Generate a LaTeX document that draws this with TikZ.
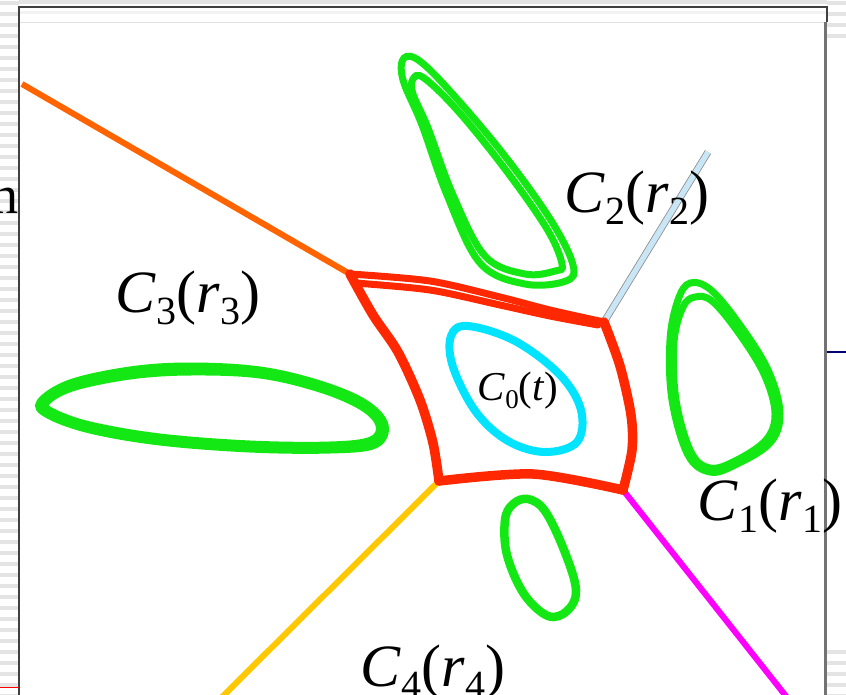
\documentclass[tikz,border=0pt]{standalone}
\usepackage{fontspec}
\setmainfont{Liberation Serif}
\usetikzlibrary{positioning}

\definecolor{bndred}{RGB}{255,40,0}
\definecolor{loopgreen}{RGB}{20,232,20}
\definecolor{loopcyan}{RGB}{0,228,255}
\definecolor{rayorange}{RGB}{255,100,0}
\definecolor{rayblue}{RGB}{200,230,245}
\definecolor{rayyellow}{RGB}{255,200,0}
\definecolor{raymagenta}{RGB}{255,0,255}
\definecolor{stripe}{RGB}{228,228,228}

% lowered subscript at a given size
\newcommand{\lsub}[2]{\raisebox{-0.2em}{\fontsize{#1}{#1}\selectfont #2}}

\begin{document}
\begin{tikzpicture}[
    x=1pt, y=-1pt,
    boundary/.style={draw=bndred, line width=9.5pt, line join=round, line cap=round},
    loop/.style={draw=loopgreen, line width=7pt},
    ray/.style={line width=6pt},
    lbl/.style={font=\fontsize{60}{60}\selectfont, inner sep=0pt, anchor=base},
    smalllbl/.style={font=\fontsize{41}{41}\selectfont, inner sep=0pt, anchor=base}
]
    \useasboundingbox (0,0) rectangle (846,694);

    % Background stripes and frame
    \fill[white] (0,0) rectangle (846,694);
    \foreach \y in {1,12,...,694} {
        \fill[stripe] (0,\y) rectangle (19,\y+3.5);
    }
    \foreach \y in {1,12,23,34} {
        \fill[stripe] (827,\y) rectangle (846,\y+3.5);
    }
    \foreach \y in {650,661,...,694} {
        \fill[stripe] (827,\y) rectangle (846,\y+3.5);
    }
    \fill[stripe] (19,0) rectangle (827,4);
    \fill[white] (19,7) rectangle (826,700);
    \fill[black!5] (20,11) rectangle (826,14);
    \draw[black!12] (20,22) -- (826,22);
    \draw[black!75, line width=1.3pt] (19,700) -- (19,7) -- (827,7) -- (827,22);
    \draw[black!55, line width=3pt] (825,22) -- (825,700);
    \draw[blue!45!black, line width=1.5pt] (827,352) -- (846,352);
    \draw[red, line width=0.8pt] (0,687) -- (19,687);
    \node[font=\fontsize{54}{54}\selectfont, inner sep=0pt, anchor=base east] (cut) at (19,213) {n};

    % Corners of the boundary
    \coordinate (q-nw) at (350,274);
    \coordinate (q-ne) at (604,322);
    \coordinate (q-se) at (623,490);
    \coordinate (q-sw) at (439,481);

    % Ray ends
    \coordinate (e3) at (22,84);
    \coordinate (e2) at (708,152);
    \coordinate (e4) at (219,700);
    \coordinate (e1) at (789,700);

    % Rays
    \draw[ray, rayorange] (q-nw) -- (e3);
    \draw[ray, draw=black!45, double=rayblue, double distance=5.5pt, line width=0.8pt] (q-ne) -- (e2);
    \draw[ray, rayyellow] (q-sw) -- (e4);
    \draw[ray, raymagenta] (q-se) -- (e1);

    % Red boundary
    \draw[boundary, line width=7pt] plot[smooth] coordinates {(q-nw) (430,281) (500,297) (550,310) (q-ne)};
    \draw[boundary, line width=7pt] plot[smooth] coordinates {(355,283) (430,290) (500,305) (550,316) (598,325)};
    \draw[boundary] plot[smooth] coordinates {(q-ne) (620,366) (631,415) (632,450) (q-se)};
    \draw[boundary] plot[smooth] coordinates {(q-se) (533,474) (q-sw)};
    \draw[boundary] plot[smooth] coordinates {(q-sw) (433,443) (420,400) (398,352) (373,315) (q-nw)};

    % Green loops
    \draw[loop] plot[smooth cycle, tension=0.6] coordinates {(404,58) (421,62) (458,100) (508,160) (552,222) (573,265) (566,281) (525,284) (480,263) (447,195) (422,125) (403,80)};
    \draw[loop] plot[smooth cycle, tension=0.6] coordinates {(413,79) (424,78) (458,111) (505,169) (547,229) (562,264) (555,271) (525,274) (485,256) (453,195) (428,128) (413,94)};
    \draw[loop] plot[smooth cycle, tension=0.6] coordinates {(690,283) (711,290) (740,325) (768,370) (780,413) (770,443) (735,465) (710,472) (688,455) (672,400) (670,340) (678,300)};
    \draw[loop] plot[smooth cycle, tension=0.6] coordinates {(695,297) (712,301) (738,332) (764,374) (775,413) (766,440) (735,461) (710,468) (691,452) (676,400) (674,342) (683,307)};
    \draw[loop] plot[smooth cycle, tension=0.6] coordinates {(40,402) (70,383) (130,370) (190,366) (260,370) (320,384) (365,403) (385,425) (375,445) (330,450) (250,449) (160,442) (90,430) (48,415)};
    \draw[loop] plot[smooth cycle, tension=0.6] coordinates {(46,403) (72,388) (130,376) (190,372) (260,375) (320,389) (362,407) (379,425) (371,440) (330,445) (250,444) (160,437) (90,425) (53,412)};
    \draw[loop, line width=8.5pt] plot[smooth cycle, tension=0.6] coordinates {(528,499) (545,511) (564,550) (576,590) (567,611) (548,616) (524,594) (507,555) (505,520) (513,504)};

    % Cyan loop
    \draw[loopcyan, line width=8pt] plot[smooth cycle, tension=0.6] coordinates {(451,336) (468,326) (515,341) (560,375) (581,410) (577,442) (545,452) (508,441) (476,412) (453,367)};

    % Labels
    \node[lbl] (c2) at (637,212) {\textit{C}\lsub{40}{2}(\textit{r}\lsub{40}{2})};
    \node[lbl] (c3) at (188,312) {\textit{C}\lsub{40}{3}(\textit{r}\lsub{40}{3})};
    \node[lbl] (c1) at (770,520) {\textit{C}\lsub{40}{1}(\textit{r}\lsub{40}{1})};
    \node[lbl] (c4) at (433,686) {\textit{C}\lsub{40}{4}(\textit{r}\lsub{40}{4})};
    \node[smalllbl] (c0) at (518,400) {\textit{C}\lsub{27}{0}(\textit{t})};

\end{tikzpicture}
\end{document}
